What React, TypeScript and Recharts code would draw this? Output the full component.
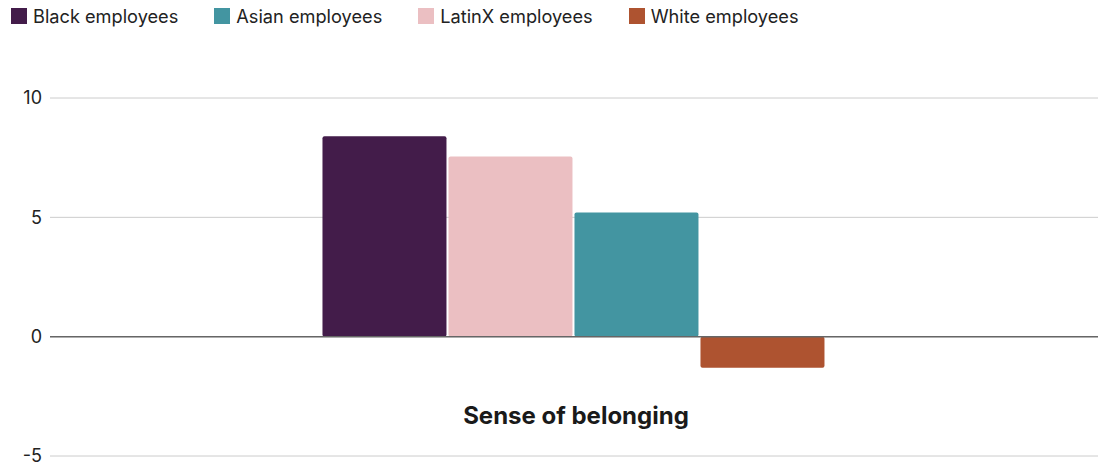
import { BarChart, Bar, XAxis, YAxis, CartesianGrid, ReferenceLine } from "recharts";

const categories = ["Sense of belonging"];
const blackValues = [8.4];
const latinxValues = [7.55];
const asianValues = [5.2];
const whiteValues = [-1.3];
const yTicks = [-5, 0, 5, 10];

// bar order in the plot differs from the legend order
const series = [
  { key: "black", name: "Black employees", color: "#431C4A" },
  { key: "latinx", name: "LatinX employees", color: "#EBBFC2" },
  { key: "asian", name: "Asian employees", color: "#4395A1" },
  { key: "white", name: "White employees", color: "#AE5330" },
];
const legendOrder = ["black", "asian", "latinx", "white"];

const data = categories.map((name, i) => ({
  name,
  black: blackValues[i],
  latinx: latinxValues[i],
  asian: asianValues[i],
  white: whiteValues[i],
}));

const FONT = "Inter, Roboto, 'Noto Sans', sans-serif";

function CategoryTick(props: any) {
  const { x, y, payload } = props;
  return (
    <text
      x={x + 2}
      y={y - 40}
      textAnchor="middle"
      fontFamily={FONT}
      fontSize={24}
      fontWeight={700}
      fill="#1a1a1a"
    >
      {payload.value}
    </text>
  );
}

export default function App() {
  return (
    <div style={{ position: "absolute", left: 0, top: 0, width: 1098, height: 465, background: "#fff" }}>
      <div
        style={{
          position: "absolute",
          left: 11,
          top: 5,
          display: "flex",
          fontFamily: FONT,
          fontSize: 18.2,
          color: "#222",
        }}
      >
        {legendOrder.map((k) => {
          const s = series.find((d) => d.key === k)!;
          return (
            <div key={k} style={{ display: "flex", alignItems: "center", marginRight: 36 }}>
              <span style={{ width: 16, height: 16, background: s.color, display: "inline-block", marginRight: 6 }} />
              <span>{s.name}</span>
            </div>
          );
        })}
      </div>
      <BarChart
        width={1098}
        height={465}
        data={data}
        margin={{ top: 98, right: 0, bottom: 8, left: 4 }}
        barCategoryGap="26%"
        barGap={2}
      >
        <CartesianGrid vertical={false} stroke="#cccccc" />
        <XAxis
          dataKey="name"
          axisLine={false}
          tickLine={false}
          height={1}
          tick={<CategoryTick />}
        />
        <YAxis
          domain={[-5, 10]}
          ticks={yTicks}
          interval={0}
          axisLine={false}
          tickLine={false}
          width={46}
          tick={{ fontFamily: FONT, fontSize: 18, fill: "#222" }}
        />
        <ReferenceLine y={0} stroke="#666" strokeWidth={1.5} />
        {series.map((s) => (
          <Bar
            key={s.key}
            dataKey={s.key}
            name={s.name}
            fill={s.color}
            radius={2}
            isAnimationActive={false}
          />
        ))}
      </BarChart>
    </div>
  );
}
